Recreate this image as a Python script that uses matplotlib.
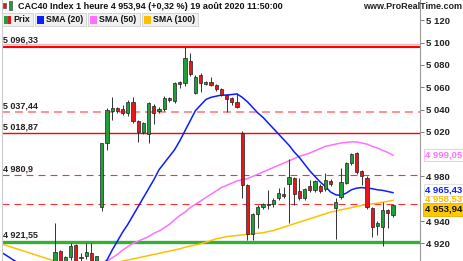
import matplotlib
matplotlib.use('Agg')
import matplotlib.pyplot as plt
import matplotlib.transforms as mtransforms
from matplotlib.patches import Rectangle

W, H = 464, 261

# candles, one per 10 min bar, oldest first
opens = [4900, 4913, 4903, 4908, 4918.5, 4907, 4909, 4911, 4900, 4952.2,
         5010.2, 5038.7, 5041.1, 5040.2, 5036.6, 5047, 5029.7, 5019.6, 5017.8, 5043.2,
         5038.4, 5040.2, 5050.4, 5047.7, 5064.4, 5063.6, 5083.8, 5055.1, 5071, 5063.2,
         5065, 5062, 5058.2, 5053, 5050, 5047, 5019.2, 4972.3, 4928, 4946.2,
         4952.8, 4954.7, 4955, 4960.3, 4964, 4972.9, 4978.3, 4966.8, 4960.3, 4971.4,
         4967.8, 4971.4, 4968.7, 4976, 4951.4, 4961.8, 4974.5, 4991.7, 5001.3, 4984.8,
         4978.8, 4951.9, 4935.7, 4934.8, 4949.6, 4945.3]
closes = [4912.4, 4902, 4908, 4918, 4903, 4908, 4912, 4901, 4908.5, 5009.7,
          5039.6, 5041, 5039, 5036.6, 5047, 5029.7, 5020.1, 5027.6, 5045.6, 5037.2,
          5040.5, 5050.7, 5048.3, 5064.1, 5062.7, 5086, 5071.9, 5069.5, 5063.6, 5065,
          5062, 5058.4, 5053, 5049.2, 5047, 5042.6, 4972.3, 4928, 4946, 4952.8,
          4955, 4955.3, 4959.3, 4965.3, 4962.7, 4979.2, 4964, 4960.3, 4968.7, 4967.8,
          4976, 4967.2, 4976.9, 4973.3, 4957.3, 4975.4, 4991.7, 4999.8, 4983.7, 4980.6,
          4952.8, 4934.8, 4938.4, 4949.6, 4947.5, 4953.94]
highs = [4938, 4914, 4909, 4920, 4919, 4911, 4920, 4920, 4909, 5010,
         5041, 5051.5, 5042, 5044, 5048.6, 5051.5, 5031, 5029, 5047, 5045,
         5042, 5052, 5051.5, 5065, 5066, 5096.33, 5090.5, 5071, 5072.5, 5066,
         5069, 5063, 5059, 5054, 5051, 5054.6, 5020.5, 4973, 4947, 4954,
         4956.5, 4967.8, 4960.5, 4970, 4970.4, 4995.3, 4979.5, 4979, 4970, 4976.9,
         4977, 4973, 4982.8, 4977.5, 4961, 4987.6, 4993, 5001, 5002, 4986,
         4980, 4953, 4940, 4957.3, 4951, 4955.5]
lows = [4896, 4898, 4897, 4905, 4900, 4903, 4906, 4898, 4897, 4949,
        5003.7, 5030.6, 5037, 5035, 5034, 5028, 5011, 5018, 5009.7, 5027,
        5037, 5039, 5047, 5046, 5059, 5061, 5070, 5054, 5056, 5062,
        5061, 5057, 5052, 5038, 5044, 5041, 4960.3, 4922.9, 4922.9, 4933.4,
        4951, 4951, 4953, 4959, 4960.3, 4937.9, 4954.4, 4959, 4959, 4966,
        4966, 4965, 4967, 4971, 4923.8, 4960, 4973, 4990, 4982, 4972.3,
        4951, 4925.9, 4927, 4917.5, 4933.4, 4944]

# moving averages, bar index -10 .. 65
ma_index = list(range(-10, 66))
sma20 = [4911, 4908, 4905, 4902, 4899, 4897, 4895, 4893, 4892, 4891,
         4890, 4889, 4889, 4889, 4890, 4891, 4893, 4895, 4898, 4901,
         4905, 4914, 4922, 4930, 4937, 4945, 4953, 4961, 4969, 4977,
         4986, 4992, 4998, 5004, 5012, 5021, 5030, 5039, 5044, 5049,
         5051, 5052, 5053, 5053, 5053.5, 5054, 5051, 5047, 5042, 5037,
         5033, 5028, 5023, 5018, 5013, 5008, 5002, 4997, 4991, 4985,
         4980, 4975, 4971, 4966, 4963.5, 4963, 4965, 4968, 4969.5, 4970,
         4969.5, 4969, 4968, 4967.5, 4966.5, 4965.43]
sma50 = [4886, 4886, 4886, 4886, 4886, 4887, 4887, 4888, 4889, 4890,
         4891, 4892, 4893, 4894, 4895, 4896, 4898, 4899, 4901, 4902,
         4904, 4907, 4910, 4914, 4917, 4920, 4922, 4924, 4926, 4929,
         4931, 4934, 4937, 4941, 4945, 4948, 4952, 4955, 4958, 4961,
         4964, 4967, 4970, 4972, 4974, 4976, 4977, 4978, 4980, 4982,
         4984, 4986, 4988, 4990, 4992, 4994, 4996, 4998, 4999.5, 5001,
         5003, 5005, 5007, 5008, 5009, 5010, 5010.5, 5011, 5011, 5010,
         5009, 5007, 5005.5, 5003.5, 5001.5, 4999.05]
sma100 = [4919, 4917.5, 4916, 4914.5, 4913, 4911.5, 4910, 4908.5, 4907, 4905.5,
          4904, 4902.5, 4901, 4900, 4899.5, 4899, 4899, 4899.5, 4900, 4900.5,
          4901, 4902, 4903, 4904, 4905, 4906, 4907, 4908, 4909, 4910,
          4911, 4912, 4913, 4914, 4915, 4916.5, 4917.5, 4918.5, 4919.5, 4921,
          4922.5, 4924, 4925, 4926, 4926.5, 4927, 4927.5, 4928, 4928.5, 4929,
          4929.5, 4930.5, 4931.5, 4933, 4934.5, 4936, 4937.5, 4939, 4940.5, 4942,
          4943.5, 4945, 4946.5, 4948, 4949, 4950, 4951, 4952, 4953, 4954,
          4954.7, 4955.4, 4956, 4956.8, 4957.6, 4958.53]

# drawn levels
level_values = [5096.33, 5037.44, 5018.87, 4980.9, 4921.55]
level_labels = ['5 096,33', '5 037,44', '5 018,87', '4 980,9', '4 921,55']
extra_dash = 4955.2
extra_light = 5098.8

yticks = [5120, 5100, 5080, 5060, 5040, 5020, 4980, 4940, 4920]

title = 'CAC40 Index 1 heure 4 953,94 (+0,32 %) 19 août 2020 11:50:00'
legend_names = ['Prix', 'SMA (20)', 'SMA (50)', 'SMA (100)']

GREEN = '#1f9e3a'
RED = '#e8161b'
BLUE = '#0a1eff'
PINK = '#ff70ff'
GOLD = '#ffc000'

plt.rcParams['font.family'] = ['Liberation Sans', 'DejaVu Sans']

fig = plt.figure(figsize=(W / 100, H / 100), dpi=100)
ax = fig.add_axes([2 / W, 0, 418 / W, 1])

# y: 5100 at 42.7 px, 4920 at 243.3 px
ppp = (243.3 - 42.7) / 180.0
ax.set_ylim(4920 - (H - 243.3) / ppp, 5100 + 42.7 / ppp)
ax.set_xlim(-10.2, 70.2)

# levels
ax.axhline(extra_light, color='#ffb0b0', lw=0.9, zorder=1)
ax.axhline(level_values[0], color='#ff0000', lw=1.5, zorder=1)
ax.axhline(level_values[1], color='#ff8888', lw=1.3, dashes=(4.4, 2.8), zorder=1)
ax.axhline(level_values[2], color='#ff0000', lw=1.0, zorder=1)
ax.axhline(level_values[3], color='#ff3030', lw=0.8, dashes=(6.3, 4.5), zorder=1)
ax.axhline(extra_dash, color='#ff3030', lw=0.8, dashes=(6.3, 4.5), zorder=1)
ax.axhline(level_values[4], color='#33b035', lw=2.4, zorder=1)

for v, lab in zip(level_values, level_labels):
    ax.annotate(lab, (0.0, v), xycoords=('axes fraction', 'data'),
                xytext=(1, 1.5), textcoords='offset points',
                fontsize=6.5, fontweight='bold', color='#222222', va='bottom', ha='left')

# moving averages
ax.plot(ma_index, sma100, color=GOLD, lw=1.1, zorder=2)
ax.plot(ma_index, sma50, color=PINK, lw=1.1, zorder=2)
ax.plot(ma_index, sma20, color=BLUE, lw=1.1, zorder=2)

# candles
idx = list(range(len(opens)))
ax.vlines(idx, lows, highs, color='#333333', lw=0.7, zorder=3)
bottoms = [min(o, c) for o, c in zip(opens, closes)]
heights = [max(abs(c - o), 0.6) for o, c in zip(opens, closes)]
colors = [GREEN if c >= o else RED for o, c in zip(opens, closes)]
ax.bar(idx, heights, bottom=bottoms, width=0.6, color=colors,
       edgecolor='#222222', linewidth=0.5, zorder=4)

# axis
ax.yaxis.tick_right()
ax.set_yticks(yticks)
ax.set_yticklabels([f'{t:,}'.replace(',', ' ') for t in yticks])
ax.tick_params(axis='y', length=3, width=0.6, color='#666666', pad=1,
               labelsize=6.8, labelcolor='#222222')
for lab in ax.get_yticklabels():
    lab.set_fontweight('bold')
ax.set_xticks([])
for s in ['top', 'bottom']:
    ax.spines[s].set_visible(False)
ax.spines['right'].set_color('#999999')
ax.spines['left'].set_color('#cccccc')

# price tags on the right
trans = mtransforms.blended_transform_factory(ax.transAxes, ax.transData)
ax.text(1.012, 4999.05, '4 999,05', transform=trans, fontsize=6.8, fontweight='bold',
        color=PINK, va='center', ha='left', clip_on=False,
        bbox=dict(boxstyle='square,pad=0.15', fc='white', ec='#ffb0ff', lw=0.6))
ax.text(1.012, 4967.5, '4 965,43', transform=trans, fontsize=6.8, fontweight='bold',
        color=BLUE, va='center', ha='left', clip_on=False,
        bbox=dict(boxstyle='square,pad=0.15', fc='white', ec='#dddddd', lw=0.6))
ax.text(1.012, 4959.5, '4 958,53', transform=trans, fontsize=6.8, fontweight='bold',
        color=GOLD, va='center', ha='left', clip_on=False)
ax.text(1.012, 4950.5, '4 953,94', transform=trans, fontsize=6.8, fontweight='bold',
        color='#111111', va='center', ha='left', clip_on=False,
        bbox=dict(boxstyle='square,pad=0.2', fc='#ffc800', ec='#e0b000', lw=0.6))


def px(x, y):
    return x / W, 1 - y / H


# header
fig.patches.append(Rectangle(px(3, 8), 3 / W, 5 / H, transform=fig.transFigure,
                             fc=RED, ec='#333333', lw=0.4))
fig.patches.append(Rectangle(px(9, 10), 3 / W, 9 / H, transform=fig.transFigure,
                             fc=GREEN, ec='#333333', lw=0.4))
fig.text(*px(18, 6.5), title, fontsize=6.5, fontweight='bold', color='#111111',
         va='center', ha='left')
fig.text(*px(462, 6.5), 'www.ProRealTime.com', fontsize=6.5, fontweight='bold',
         color='#222222', va='center', ha='right')

# legend chips
boxes = [(2, 33), (35, 86), (88, 140), (142, 198)]
chip_colors = [None, BLUE, PINK, GOLD]
for (x0, x1), name, col in zip(boxes, legend_names, chip_colors):
    fig.patches.append(Rectangle(px(x0, 26), (x1 - x0) / W, 13 / H,
                                 transform=fig.transFigure, fc='#f0f0f0',
                                 ec='#cfcfcf', lw=0.6))
    if col is None:
        fig.patches.append(Rectangle(px(4, 24), 3.5 / W, 8 / H, transform=fig.transFigure,
                                     fc=GREEN, ec='none'))
        fig.patches.append(Rectangle(px(7.5, 24), 3.5 / W, 8 / H, transform=fig.transFigure,
                                     fc=RED, ec='none'))
    else:
        fig.patches.append(Rectangle(px(x0 + 2, 24), 7 / W, 8 / H, transform=fig.transFigure,
                                     fc=col, ec='none'))
    fig.text(*px(x0 + 11, 19.5), name, fontsize=6.3, fontweight='bold',
             color='#111111', va='center', ha='left')

fig.savefig('out.png', dpi=100)
